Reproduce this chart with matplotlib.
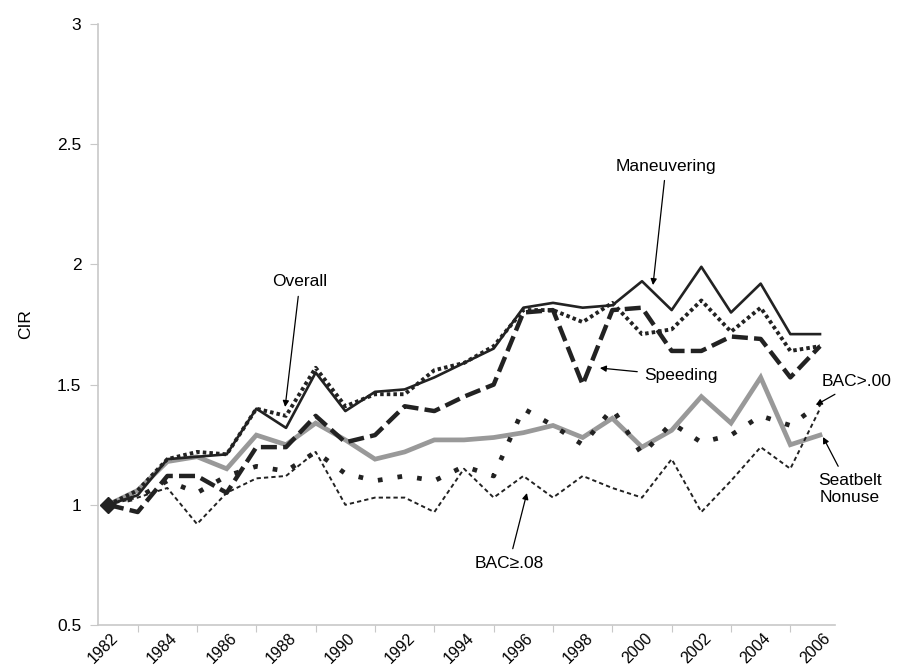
import matplotlib
matplotlib.use("Agg")
import matplotlib.pyplot as plt
import matplotlib.transforms as mtransforms

plt.rcParams["font.family"] = ["Liberation Sans", "DejaVu Sans"]

years = list(range(1982, 2007))

maneuvering = [1.00, 1.04, 1.19, 1.20, 1.21, 1.40, 1.32, 1.55, 1.39, 1.47, 1.48, 1.53, 1.59,
               1.65, 1.82, 1.84, 1.82, 1.83, 1.93, 1.81, 1.99, 1.80, 1.92, 1.71, 1.71]
overall = [1.00, 1.06, 1.19, 1.22, 1.21, 1.40, 1.37, 1.57, 1.41, 1.46, 1.46, 1.56, 1.59,
           1.66, 1.81, 1.81, 1.76, 1.84, 1.71, 1.73, 1.85, 1.72, 1.82, 1.64, 1.66]
speeding = [1.00, 0.97, 1.12, 1.12, 1.05, 1.24, 1.24, 1.37, 1.26, 1.29, 1.41, 1.39, 1.45,
            1.50, 1.80, 1.81, 1.50, 1.81, 1.82, 1.64, 1.64, 1.70, 1.69, 1.53, 1.66]
seatbelt = [1.00, 1.06, 1.18, 1.20, 1.15, 1.29, 1.25, 1.34, 1.27, 1.19, 1.22, 1.27, 1.27,
            1.28, 1.30, 1.33, 1.28, 1.36, 1.24, 1.31, 1.45, 1.34, 1.53, 1.25, 1.29]
bac00 = [1.00, 1.03, 1.10, 1.05, 1.12, 1.16, 1.14, 1.22, 1.13, 1.10, 1.12, 1.10, 1.16,
         1.12, 1.40, 1.33, 1.25, 1.40, 1.21, 1.34, 1.26, 1.29, 1.37, 1.33, 1.42]
bac08 = [1.00, 1.03, 1.07, 0.92, 1.05, 1.11, 1.12, 1.22, 1.00, 1.03, 1.03, 0.97, 1.15,
         1.03, 1.12, 1.03, 1.12, 1.07, 1.03, 1.19, 0.97, 1.10, 1.24, 1.15, 1.40]

label_years = list(range(1982, 2007, 2))
tick_years = list(range(1983, 2006, 2))
y_ticks = [0.5, 1, 1.5, 2, 2.5, 3]

fig = plt.figure(figsize=(9.17, 6.72), dpi=100)
ax = fig.add_axes([0.1069, 0.0699, 0.8037, 0.8944])

ax.plot(years, seatbelt, color="#999999", lw=3.4, solid_joinstyle="miter", zorder=2)
ax.plot(years, bac08, color="#222222", lw=1.4, dashes=(2.2, 1.6), zorder=3)
ax.plot(years, bac00, color="#222222", lw=3.4, dashes=(1, 3.2), zorder=3)
ax.plot(years, speeding, color="#222222", lw=3.2, dashes=(3.6, 1.4), zorder=4)
ax.plot(years, overall, color="#222222", lw=2.8, dashes=(0.9, 0.8), zorder=4)
ax.plot(years, maneuvering, color="#222222", lw=1.9, zorder=5,
        marker="D", markersize=8, markevery=[0])

ax.set_xlim(1981.663, 2006.506)
ax.set_ylim(0.5, 3)

for side in ["top", "right"]:
    ax.spines[side].set_visible(False)
for side in ["left", "bottom"]:
    ax.spines[side].set_color("#c8c8c8")
    ax.spines[side].set_linewidth(1.2)

ax.set_yticks(y_ticks)
ax.set_yticklabels(["0.5", "1", "1.5", "2", "2.5", "3"], fontsize=12.5)
ax.tick_params(axis="y", length=6, color="#c8c8c8", pad=6)

ax.set_xticks(tick_years)
ax.set_xticklabels([])
ax.tick_params(axis="x", which="major", length=5, color="#c8c8c8", direction="out")
ax.set_xticks(label_years, minor=True)
ax.set_xticklabels([str(y) for y in label_years], minor=True, rotation=45,
                   ha="right", va="top", fontsize=11.5)
ax.tick_params(axis="x", which="minor", length=0, pad=4)
shift = mtransforms.ScaledTranslation(13 / 100, 0, fig.dpi_scale_trans)
for lab in ax.get_xticklabels(minor=True):
    lab.set_transform(lab.get_transform() + shift)

ax.set_ylabel("CIR", fontsize=12.5, labelpad=17)

arrow = dict(arrowstyle="-|>", color="black", lw=0.9, mutation_scale=9,
             shrinkA=3, shrinkB=0)
notes = [
    ("Overall", (1987.97, 1.407), (1988.47, 1.927)),
    ("Maneuvering", (2000.37, 1.914), (2000.81, 2.409)),
    ("Speeding", (1998.58, 1.569), (2001.31, 1.536)),
    ("BAC>.00", (2005.86, 1.415), (2007.24, 1.511)),
    ("Seatbelt\nNonuse", (2006.10, 1.282), (2007.01, 1.066)),
    ("BAC\u2265.08", (1996.12, 1.049), (1995.52, 0.758)),
]
for text, target, pos in notes:
    ax.annotate(text, xy=target, xytext=pos, ha="center", va="center",
                fontsize=12.5, arrowprops=arrow, annotation_clip=False)

fig.savefig("out.png", dpi=100)
